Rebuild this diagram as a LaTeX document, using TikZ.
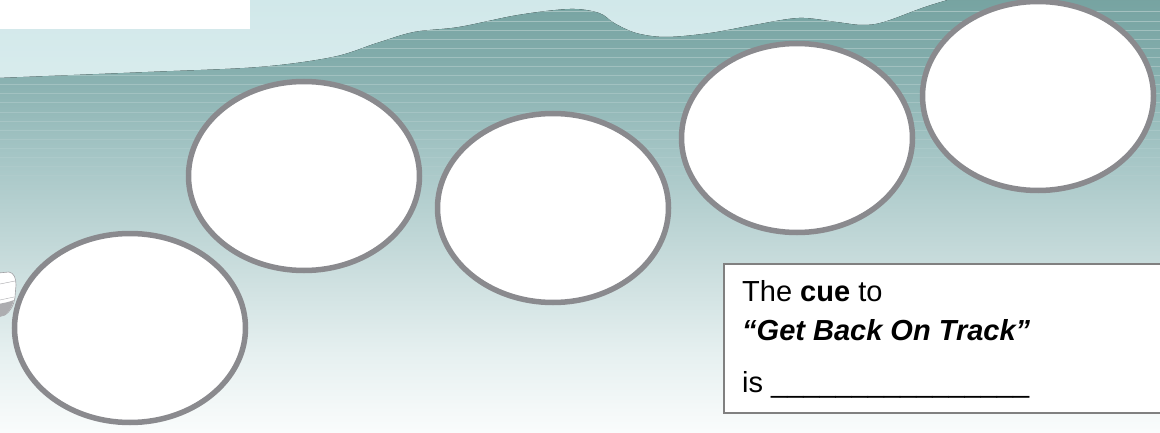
\documentclass[tikz,border=0pt]{standalone}
\usepackage{fontspec}
\setmainfont{Liberation Sans}
\usetikzlibrary{shapes.geometric}
\definecolor{lightsky}{HTML}{D1E8EA}
\definecolor{lightsky2}{HTML}{D9ECED}
\definecolor{c0}{HTML}{FBFDFD}
\definecolor{c1}{HTML}{E6F0F0}
\definecolor{c2}{HTML}{C5DADA}
\definecolor{c3}{HTML}{A3C4C4}
\definecolor{c4}{HTML}{82ACAB}
\definecolor{c5}{HTML}{76A3A1}
\definecolor{ringgray}{HTML}{8A8A8E}
\definecolor{boxgray}{HTML}{808080}
\pgfdeclareverticalshading{bgshade}{100bp}{color(0bp)=(c0); color(25bp)=(c0); color(34.6bp)=(c1); color(46bp)=(c2); color(57.7bp)=(c3); color(68bp)=(c4); color(75bp)=(c5); color(100bp)=(c5)}
\tikzset{
  ring/.style={ellipse, draw=ringgray, fill=white, line width=5.5pt, inner sep=0pt, minimum width=231pt, minimum height=189pt},
  cuebox/.style={draw=boxgray, fill=white, line width=2pt, inner sep=0pt, anchor=north west, minimum width=450pt, minimum height=149pt},
  cuetext/.style={anchor=base west, inner sep=0pt, font=\fontsize{29}{34}\selectfont},
  stripe/.style={white, line width=1pt}
}
\def\wavepath{plot[smooth, tension=0.55] coordinates {(-2,78) (148,72) (259,67) (333,57) (377,43) (414,32) (459,27) (518,15) (570,9) (599,13) (614,23) (636,33) (666,37) (710,33) (754,25) (799,18) (836,22) (862,25) (884,22) (925,7) (958,-3)} -- (1165,-3) -- (1165,438) -- (-2,438) -- cycle}
\begin{document}
\begin{tikzpicture}[x=1pt, y=-1pt]
\useasboundingbox (0,0) rectangle (1160,433);
\clip (0,0) rectangle (1160,433);
% sky
\shade[top color=lightsky, bottom color=lightsky2] (0,0) rectangle (1160,90);
% teal band with gradient
\fill[shading=bgshade] \wavepath;
% stripes
\begin{scope}
  \clip \wavepath;
  \foreach \k in {0,...,18} {
    \draw[stripe, opacity={0.32-0.015*\k}] (0,{12+9.1*\k}) -- (1160,{12+9.1*\k});
  }
\end{scope}
% white patch top-left
\fill[white] (0,0) rectangle (250,29);
% small partial icon at left edge
\filldraw[fill=white, draw=ringgray!80, line width=0.6pt] (-2,273) -- (9,272) .. controls (14,273) and (16,278) .. (16,285) -- (15,297) .. controls (14,305) and (10,312) .. (5,315) -- (-2,317) -- cycle;
\fill[ringgray!70] (-2,304) .. controls (4,303) and (9,302) .. (14,300) .. controls (12,307) and (9,312) .. (5,315) -- (-2,317) -- cycle;
\draw[ringgray!70, line width=0.4pt] (0,284) -- (15,281);
\draw[ringgray!70, line width=0.4pt] (0,300) -- (14,297);
% rings
\node[ring] (e1) at (130,328) {};
\node[ring] (e2) at (304,176) {};
\node[ring] (e3) at (553,208) {};
\node[ring] (e4) at (797,138) {};
\node[ring] (e5) at (1038,96) {};
% cue box
\node[cuebox] (box) at (723,263) {};
\node[cuetext] (l1) at (742,301) {The \textbf{cue} to};
\node[cuetext] (l2) at (742,340) {\textbf{\textit{“Get Back On Track”}}};
\node[cuetext] (l3) at (742,392) {is \_\_\_\_\_\_\_\_\_\_\_\_\_\_\_\_};
\end{tikzpicture}
\end{document}
